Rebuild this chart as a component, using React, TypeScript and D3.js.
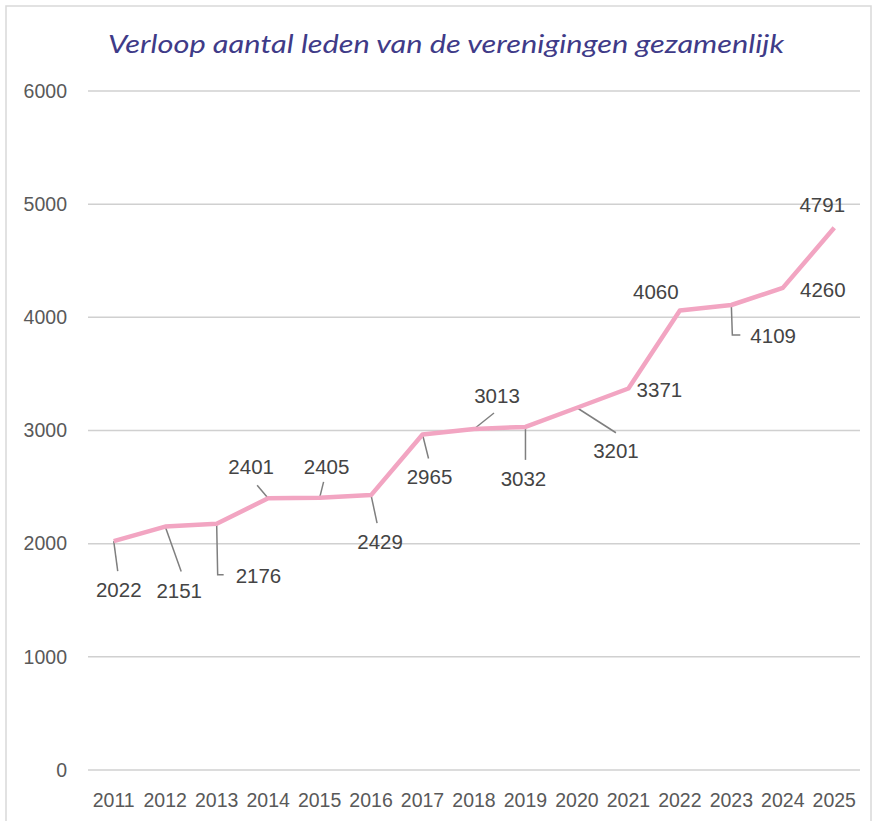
import React from "react";
import * as d3 from "d3";

// data
const years = [
  "2011", "2012", "2013", "2014", "2015", "2016", "2017", "2018",
  "2019", "2020", "2021", "2022", "2023", "2024", "2025",
];
const members = [
  2022, 2151, 2176, 2401, 2405, 2429, 2965, 3013, 3032, 3201, 3371, 4060,
  4109, 4260, 4791,
];
const yTicks = [0, 1000, 2000, 3000, 4000, 5000, 6000];

// label placement relative to each point: [dx, dy, anchor], plus optional leader polyline
const labelPlacement: [number, number, string][] = [
  [5, 49, "middle"],
  [14, 64, "middle"],
  [19, 52, "start"],
  [-17, -31, "middle"],
  [7, -31, "middle"],
  [9, 47, "middle"],
  [7, 42, "middle"],
  [23, -33, "middle"],
  [-2, 52, "middle"],
  [39, 43, "middle"],
  [31, 1, "middle"],
  [-24, -19, "middle"],
  [19, 31, "start"],
  [40, 2, "middle"],
  [-12, -23, "middle"],
];
const leaders: ([number, number][] | null)[] = [
  [[0, 0], [4, 30]],
  [[0, 0], [16, 45]],
  [[0, 0], [1, 51], [7, 51]],
  [[0, 0], [-11, -13]],
  [[0, 0], [4, -16]],
  [[0, 0], [6, 28]],
  [[0, 0], [6, 24]],
  [[0, 0], [20, -16]],
  [[0, 0], [0, 33]],
  [[0, 0], [39, 25]],
  null,
  null,
  [[0, 0], [1, 30], [9, 30]],
  null,
  null,
];

const W = 878;
const H = 821;
const margin = { top: 91, right: 18, bottom: 51, left: 88 };

export default function App() {
  const x = d3
    .scalePoint<string>()
    .domain(years)
    .range([margin.left, W - margin.right])
    .padding(0.5);
  const y = d3
    .scaleLinear()
    .domain([0, 6000])
    .range([H - margin.bottom, margin.top]);

  const line = d3
    .line<number>()
    .x((_, i) => x(years[i]) as number)
    .y((d) => y(d));

  const font = "'Liberation Sans', Arial, sans-serif";

  return (
    <svg
      width={W}
      height={H}
      style={{ position: "absolute", left: 0, top: 0, background: "#fff" }}
    >
      <rect x={6} y={6} width={865} height={830} fill="#fff" stroke="#d9d9d9" strokeWidth={1.5} />

      <text
        x={446}
        y={53}
        textAnchor="middle"
        fill="#3f3b88"
        fontStyle="italic"
        fontSize={25}
        textLength={676}
        lengthAdjust="spacingAndGlyphs"
        fontFamily="Lato, 'Open Sans', sans-serif"
      >
        Verloop aantal leden van de verenigingen gezamenlijk
      </text>

      {/* gridlines */}
      {yTicks.map((t) => (
        <g key={t}>
          <line
            x1={margin.left}
            x2={W - margin.right}
            y1={y(t)}
            y2={y(t)}
            stroke="#d0d0d0"
            strokeWidth={1.5}
          />
          <text
            x={67}
            y={y(t)}
            dy="0.35em"
            textAnchor="end"
            fill="#595959"
            fontSize={19.5}
            fontFamily={font}
          >
            {t}
          </text>
        </g>
      ))}

      {/* x axis labels */}
      {years.map((yr) => (
        <text
          key={yr}
          x={x(yr)}
          y={800}
          dy="0.35em"
          textAnchor="middle"
          fill="#595959"
          fontSize={19.5}
          fontFamily={font}
        >
          {yr}
        </text>
      ))}

      {/* leader lines */}
      {members.map((v, i) => {
        const pts = leaders[i];
        if (!pts) return null;
        const px = x(years[i]) as number;
        const py = y(v);
        return (
          <polyline
            key={"l" + i}
            points={pts.map(([dx, dy]) => `${px + dx},${py + dy}`).join(" ")}
            fill="none"
            stroke="#7f7f7f"
            strokeWidth={1.5}
          />
        );
      })}

      <path
        d={line(members) ?? ""}
        fill="none"
        stroke="#f2a5c2"
        strokeWidth={4.5}
        strokeLinejoin="round"
      />

      {/* data labels */}
      {members.map((v, i) => {
        const [dx, dy, anchor] = labelPlacement[i];
        return (
          <text
            key={"t" + i}
            x={(x(years[i]) as number) + dx}
            y={y(v) + dy}
            dy="0.35em"
            textAnchor={anchor as any}
            fill="#444"
            fontSize={20.5}
            fontFamily={font}
          >
            {v}
          </text>
        );
      })}
    </svg>
  );
}
